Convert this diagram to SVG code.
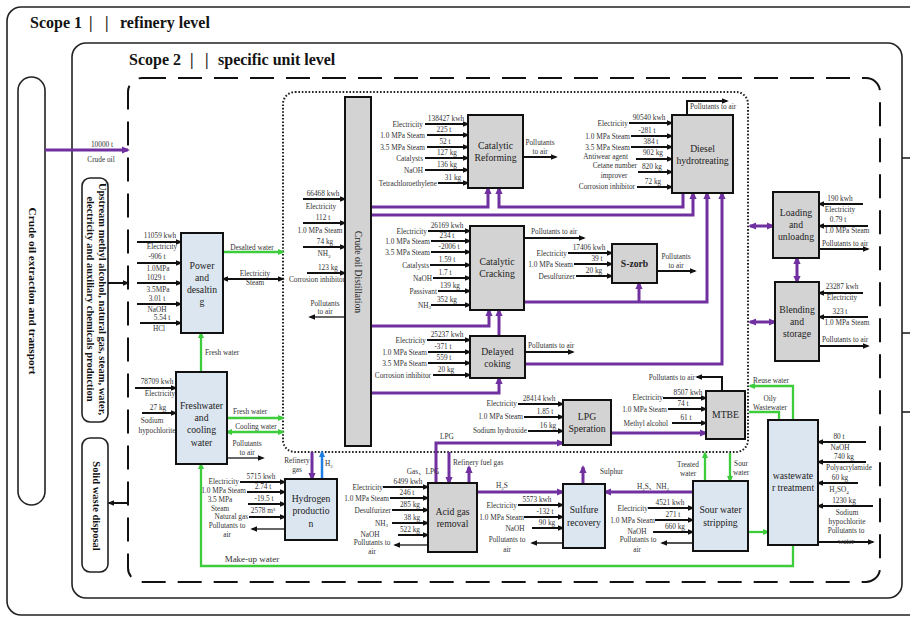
<svg xmlns="http://www.w3.org/2000/svg" width="910" height="617" viewBox="0 0 910 617">
<defs>
<style>
text{font-family:"Liberation Serif","Times New Roman","Noto Sans CJK SC",serif;fill:#333}
.s{font-size:7.3px}
.m{text-anchor:middle}
.e{text-anchor:end}
.sb{font-size:5px}
.bx{font-size:9.7px;fill:#222;text-anchor:middle}
.ti{font-size:16px;font-weight:bold;fill:#111;opacity:0.99}
.vt{font-weight:bold;fill:#111;text-anchor:middle}
.g{fill:#d3d3d3;stroke:#111;stroke-width:2}
.bl{fill:#dce6f0;stroke:#111;stroke-width:2}
.fr{fill:none;stroke:#222;stroke-width:1.6}
.k{stroke:#111;stroke-width:2;fill:none;marker-end:url(#aK)}
.kd{stroke:#111;stroke-width:2;fill:none;marker-end:url(#aK);marker-start:url(#aK)}
.po{stroke:#333;stroke-width:1.7;fill:none;marker-end:url(#aK)}
.p{stroke:#7030a0;stroke-width:3;fill:none;marker-end:url(#aP)}
.pd{stroke:#7030a0;stroke-width:3;fill:none;marker-end:url(#aP);marker-start:url(#aP)}
.gr{stroke:#3ccc3c;stroke-width:2.3;fill:none;marker-end:url(#aG)}
.grd{stroke:#3ccc3c;stroke-width:2.3;fill:none;marker-end:url(#aG);marker-start:url(#aG)}
.grl{stroke:#3ccc3c;stroke-width:2.3;fill:none}
.bu{stroke:#1e7fe0;stroke-width:2.5;fill:none;marker-end:url(#aB)}
</style>
<marker id="aK" viewBox="0 0 10 8" refX="7.5" refY="4" markerWidth="7" markerHeight="5.6" markerUnits="userSpaceOnUse" orient="auto-start-reverse"><path d="M0,0L10,4L0,8z" fill="#111"/></marker>
<marker id="aP" viewBox="0 0 10 9" refX="7.5" refY="4.5" markerWidth="8" markerHeight="7.5" markerUnits="userSpaceOnUse" orient="auto-start-reverse"><path d="M0,0L10,4.5L0,9z" fill="#7030a0"/></marker>
<marker id="aG" viewBox="0 0 10 9" refX="7.5" refY="4.5" markerWidth="7" markerHeight="6.5" markerUnits="userSpaceOnUse" orient="auto-start-reverse"><path d="M0,0L10,4.5L0,9z" fill="#3ccc3c"/></marker>
<marker id="aB" viewBox="0 0 10 9" refX="7.5" refY="4.5" markerWidth="7" markerHeight="6.5" markerUnits="userSpaceOnUse" orient="auto-start-reverse"><path d="M0,0L10,4.5L0,9z" fill="#1e7fe0"/></marker>
</defs>
<rect width="910" height="617" fill="#fff"/>

<g id="scopes">
<rect class="fr" x="7" y="7" width="940" height="608" rx="14"/>
<text class="ti" x="30" y="28">Scope 1<tspan x="89">|</tspan><tspan x="105">|</tspan><tspan x="120">refinery level</tspan></text>
<rect class="fr" x="72" y="43" width="830" height="555" rx="14"/>
<text class="ti" x="129" y="65">Scope 2<tspan x="190">|</tspan><tspan x="205">|</tspan><tspan x="218">specific unit level</tspan></text>
<rect x="128" y="78" width="752" height="504" rx="14" fill="none" stroke="#111" stroke-width="2" stroke-dasharray="24 12"/>
<rect x="283" y="92" width="465" height="360" rx="12" fill="none" stroke="#222" stroke-width="2" stroke-dasharray="1.6 1.8"/>
<line x1="902" y1="158" x2="910" y2="158" stroke="#222" stroke-width="1.6"/>
<line x1="902" y1="333" x2="910" y2="333" stroke="#222" stroke-width="1.6"/>
<line x1="902" y1="412" x2="910" y2="412" stroke="#222" stroke-width="1.6"/>
</g>

<g id="crude-oil-extraction">
<rect class="fr" x="18" y="77" width="27" height="428" rx="13.5"/>
<text class="vt" font-size="11.3" transform="translate(33,291) rotate(90)" y="3.7">Crude oil extraction and transport</text>
</g>
<g id="upstream-production">
<rect class="fr" x="82" y="178" width="26" height="244" rx="8"/>
<text class="vt" font-size="10.5" transform="translate(95,299) rotate(90)"><tspan x="0" y="-3.7">Upstream methyl alcohol, natural gas, steam, water,</tspan><tspan x="0" y="8.3">electricity and auxiliary chemicals production</tspan></text>
</g>
<g id="solid-waste-disposal">
<rect class="fr" x="82" y="438" width="26" height="134" rx="8"/>
<text class="vt" font-size="10.5" transform="translate(96,506) rotate(90)" y="3.5">Solid waste disposal</text>
</g>

<g id="connectors">
<line class="p" x1="45" y1="150" x2="128" y2="150"/>
<line class="k" x1="108" y1="283" x2="128" y2="283"/>
<line class="k" x1="128" y1="503" x2="109" y2="503"/>
<line class="k" x1="137" y1="242" x2="181" y2="242"/>
<line class="k" x1="137" y1="263" x2="181" y2="263"/>
<line class="k" x1="137" y1="283" x2="181" y2="283"/>
<line class="k" x1="137" y1="304" x2="181" y2="304"/>
<line class="k" x1="140" y1="323" x2="181" y2="323"/>
<line class="gr" x1="223" y1="252" x2="283" y2="252"/>
<line class="kd" x1="223" y1="279" x2="283" y2="279"/>
<line class="gr" x1="201" y1="372" x2="201" y2="333"/>
<line class="k" x1="135" y1="388" x2="176" y2="388"/>
<line class="k" x1="142" y1="413" x2="176" y2="413"/>
<line class="gr" x1="227" y1="418" x2="283" y2="418"/>
<line class="grd" x1="227" y1="432" x2="283" y2="432"/>
<line class="po" x1="227" y1="458" x2="263" y2="458"/>
<path class="gr" d="M793,545 V566 H201 V464"/>
<line class="k" x1="240" y1="482" x2="285" y2="482"/>
<line class="k" x1="247" y1="492" x2="285" y2="492"/>
<line class="k" x1="248" y1="504" x2="285" y2="504" stroke-width="2.8"/>
<line class="k" x1="249" y1="517" x2="285" y2="517"/>
<line class="po" x1="285" y1="529" x2="252" y2="529"/>
<path class="p" d="M312,452 V479" stroke-width="2.5"/>
<path class="bu" d="M322,479 V452"/>
<line class="k" x1="303" y1="199" x2="345" y2="199"/>
<line class="k" x1="303" y1="223" x2="345" y2="223"/>
<line class="k" x1="303" y1="247" x2="345" y2="247"/>
<line class="k" x1="307" y1="273" x2="345" y2="273"/>
<line class="po" x1="345" y1="317" x2="310" y2="317"/>
<path class="p" d="M371,207 H488 V188"/>
<path class="p" d="M683,193 V207 H499 V188"/>
<path class="p" d="M371,215 H693 V193"/>
<path class="p" d="M371,326 H489 V310"/>
<path class="p" d="M499,336 V310"/>
<path class="p" d="M524,302 H707 V193"/>
<path class="p" d="M639,302 V283"/>
<path class="p" d="M525,364 H722 V193"/>
<path class="p" d="M371,393 H499 V378"/>
<line class="k" x1="425" y1="124" x2="468" y2="124"/>
<line class="k" x1="427" y1="135" x2="468" y2="135"/>
<line class="k" x1="427" y1="147" x2="468" y2="147"/>
<line class="k" x1="425" y1="158" x2="468" y2="158"/>
<line class="k" x1="425" y1="170" x2="468" y2="170"/>
<line class="k" x1="438" y1="183" x2="468" y2="183"/>
<line class="k" x1="523" y1="157" x2="556" y2="157"/>
<line class="k" x1="629" y1="123" x2="672" y2="123"/>
<line class="k" x1="631" y1="136" x2="672" y2="136"/>
<line class="k" x1="631" y1="147" x2="672" y2="147"/>
<line class="k" x1="636" y1="159" x2="672" y2="159"/>
<line class="k" x1="638" y1="172" x2="672" y2="172"/>
<line class="k" x1="637" y1="187" x2="672" y2="187"/>
<path class="k" d="M687,115 V101 H727"/>
<line class="k" x1="428" y1="231" x2="470" y2="231"/>
<line class="k" x1="431" y1="241" x2="470" y2="241"/>
<line class="k" x1="431" y1="252" x2="470" y2="252" stroke-width="2.8"/>
<line class="k" x1="430" y1="265" x2="470" y2="265"/>
<line class="k" x1="433" y1="278" x2="470" y2="278"/>
<line class="k" x1="438" y1="291" x2="470" y2="291"/>
<line class="k" x1="431" y1="305" x2="470" y2="305"/>
<line class="k" x1="524" y1="238" x2="584" y2="238"/>
<line class="k" x1="568" y1="253" x2="612" y2="253"/>
<line class="k" x1="574" y1="264" x2="612" y2="264"/>
<line class="k" x1="576" y1="276" x2="612" y2="276"/>
<line class="k" x1="657" y1="271" x2="695" y2="271"/>
<line class="k" x1="427" y1="340" x2="470" y2="340"/>
<line class="k" x1="428" y1="352" x2="470" y2="352"/>
<line class="k" x1="428" y1="363" x2="470" y2="363" stroke-width="2.8"/>
<line class="k" x1="433" y1="375" x2="470" y2="375"/>
<line class="k" x1="525" y1="352" x2="573" y2="352"/>
<line class="k" x1="518" y1="404" x2="563" y2="404"/>
<line class="k" x1="524" y1="417" x2="563" y2="417"/>
<line class="k" x1="528" y1="431" x2="563" y2="431"/>
<path class="p" d="M436,483 V443 H563"/>
<line class="p" x1="611" y1="433" x2="706" y2="433"/>
<line class="k" x1="663" y1="398" x2="706" y2="398"/>
<line class="k" x1="668" y1="409" x2="706" y2="409"/>
<line class="k" x1="672" y1="423" x2="706" y2="423"/>
<path class="k" d="M722,391 V377 H697"/>
<line class="pd" x1="750" y1="226" x2="773" y2="226"/>
<line class="pd" x1="797" y1="258" x2="797" y2="282"/>
<line class="pd" x1="750" y1="322" x2="775" y2="322"/>
<line class="k" x1="863" y1="204" x2="819" y2="204"/>
<line class="k" x1="868" y1="226" x2="819" y2="226"/>
<line class="k" x1="819" y1="249" x2="868" y2="249"/>
<line class="k" x1="863" y1="293" x2="819" y2="293"/>
<line class="k" x1="868" y1="317" x2="819" y2="317"/>
<line class="k" x1="819" y1="346" x2="868" y2="346"/>
<path class="gr" d="M793,420 V386 H750"/>
<path class="grl" d="M749,412 H779 V420"/>
<line class="gr" x1="748" y1="532" x2="768" y2="532"/>
<line class="k" x1="866" y1="442" x2="818" y2="442"/>
<line class="k" x1="866" y1="462" x2="818" y2="462"/>
<line class="k" x1="858" y1="483" x2="818" y2="483"/>
<line class="k" x1="873" y1="506" x2="818" y2="506"/>
<line class="k" x1="818" y1="542" x2="873" y2="542"/>
<line class="gr" x1="705" y1="481" x2="705" y2="453"/>
<line class="gr" x1="730" y1="453" x2="730" y2="481"/>
<line class="k" x1="648" y1="508" x2="693" y2="508"/>
<line class="k" x1="655" y1="520" x2="693" y2="520"/>
<line class="k" x1="653" y1="532" x2="693" y2="532"/>
<line class="po" x1="693" y1="543" x2="662" y2="543"/>
<line class="p" x1="693" y1="492" x2="605" y2="492"/>
<line class="p" x1="583" y1="484" x2="583" y2="467"/>
<line class="k" x1="518" y1="505" x2="563" y2="505"/>
<line class="k" x1="524" y1="517" x2="563" y2="517"/>
<line class="k" x1="532" y1="528" x2="563" y2="528"/>
<line class="po" x1="563" y1="543" x2="532" y2="543"/>
<line class="p" x1="477" y1="492" x2="563" y2="492"/>
<path class="p" d="M449,452 V483" stroke-width="2.5"/>
<path class="p" d="M469,483 V467" stroke-width="2.5"/>
<line class="k" x1="383" y1="487" x2="428" y2="487"/>
<line class="k" x1="390" y1="498" x2="428" y2="498"/>
<line class="k" x1="392" y1="510" x2="428" y2="510"/>
<line class="k" x1="392" y1="523" x2="428" y2="523"/>
<line class="k" x1="398" y1="535" x2="428" y2="535"/>
<line class="po" x1="428" y1="545" x2="395" y2="545"/>
</g>

<g id="crude-oil-labels" class="s">
<text class="m" x="102" y="147">10000 t</text>
<text class="m" x="101" y="162">Crude oil</text>
</g>

<g id="power-and-desalting">
<rect class="bl" x="181" y="233" width="42" height="100"/>
<text class="bx" x="202" y="269">Power</text>
<text class="bx" x="202" y="281">and</text>
<text class="bx" x="202" y="293">desaltin</text>
<text class="bx" x="202" y="305">g</text>
<g class="s">
<text class="m" x="160" y="238">11059 kwh</text><text class="m" x="162" y="249">Electricity</text>
<text class="m" x="157" y="259">-906 t</text><text class="m" x="158" y="271">1.0MPa</text>
<text class="m" x="156" y="280">1029 t</text><text class="m" x="158" y="292">3.5MPa</text>
<text class="m" x="157" y="301">3.01 t</text><text class="m" x="157" y="312">NaOH</text>
<text class="m" x="162" y="320">5.54 t</text><text class="m" x="159" y="331">HCl</text>
<text class="m" x="252" y="250">Desalted water</text>
<text class="m" x="255" y="276">Electricity</text>
<text class="m" x="255" y="285">Steam</text>
<text x="205" y="355">Fresh water</text>
</g>
</g>

<g id="freshwater-cooling-water">
<rect class="bl" x="176" y="372" width="51" height="92"/>
<text class="bx" x="201.5" y="409">Freshwater</text>
<text class="bx" x="201.5" y="421">and</text>
<text class="bx" x="201.5" y="433">cooling</text>
<text class="bx" x="201.5" y="446">water</text>
<g class="s">
<text class="m" x="157" y="384">78709 kwh</text><text class="m" x="160" y="396">Electricity</text>
<text class="m" x="158" y="410">27 kg</text><text class="m" x="152" y="423">Sodium</text><text class="m" x="157" y="433">hypochlorite</text>
<text class="m" x="250" y="414">Fresh water</text>
<text class="m" x="256" y="429">Cooling water</text>
<text class="m" x="247" y="446">Pollutants</text><text class="m" x="247" y="455">to air</text>
</g>
<text class="m" x="252" y="562" font-size="9">Make-up water</text>
</g>

<g id="hydrogen-production">
<rect class="bl" x="285" y="479" width="52" height="61"/>
<text class="bx" x="311" y="502">Hydrogen</text>
<text class="bx" x="311" y="514">productio</text>
<text class="bx" x="311" y="527">n</text>
<g class="s">
<text class="e" x="239" y="484">Electricity</text><text class="m" x="261" y="479">5715 kwh</text>
<text class="e" x="246" y="493">1.0 MPa Steam</text><text class="m" x="263" y="489">2.74 t</text>
<text class="m" x="220" y="502">3.5 MPa</text><text class="m" x="220" y="510.5">Steam</text><text class="m" x="264" y="501">-19.5 t</text>
<text class="e" x="248" y="519">Natural gas</text><text class="m" x="263" y="513">2578 m³</text>
<text class="m" x="227" y="528">Pollutants to</text><text class="m" x="227" y="537">air</text>
<text class="m" x="297" y="463">Refinery</text><text class="m" x="297" y="472">gas</text>
<text x="325" y="466">H<tspan class="sb" dy="1.5">2</tspan></text>
</g>
</g>

<g id="crude-oil-distillation">
<rect class="g" x="345" y="97" width="26" height="349"/>
<text class="bx" font-size="9.8" transform="translate(358,272) rotate(90)" y="3.4">Crude oil  Distillation</text>
<g class="s">
<text class="m" x="323" y="196">66468 kwh</text><text class="m" x="321" y="209">Electricity</text>
<text class="m" x="323" y="220">112 t</text><text class="m" x="320" y="233">1.0 MPa Steam</text>
<text class="m" x="325" y="244">74 kg</text><text class="m" x="324" y="256">NH<tspan class="sb" dy="1.5">3</tspan></text>
<text class="m" x="328" y="270">123 kg</text><text class="m" x="317" y="282">Corrosion inhibitor</text>
<text class="m" x="325" y="306">Pollutants</text><text class="m" x="325" y="314">to air</text>
</g>
</g>

<g id="catalytic-reforming">
<rect class="g" x="468" y="115" width="55" height="73"/>
<text class="bx" x="495.5" y="149">Catalytic</text>
<text class="bx" x="495.5" y="161">Reforming</text>
<g class="s">
<text class="e" x="423" y="126.5">Electricity</text><text class="m" x="446" y="121">138427 kwh</text>
<text class="e" x="425" y="137.5">1.0 MPa Steam</text><text class="m" x="444" y="132">225 t</text>
<text class="e" x="425" y="149.5">3.5 MPa Steam</text><text class="m" x="445" y="144">52 t</text>
<text class="e" x="423" y="160.5">Catalysts</text><text class="m" x="447" y="155">127 kg</text>
<text class="e" x="423" y="172.5">NaOH</text><text class="m" x="447" y="167">136 kg</text>
<text class="e" x="437" y="185.5">Tetrachloroethylene</text><text class="m" x="453" y="180">31 kg</text>
<text class="m" x="540" y="145">Pollutants</text><text class="m" x="540" y="154">to air</text>
</g>
</g>

<g id="diesel-hydrotreating">
<rect class="g" x="672" y="115" width="61" height="78"/>
<text class="bx" x="702.5" y="152">Diesel</text>
<text class="bx" x="702.5" y="164">hydrotreating</text>
<g class="s">
<text x="690" y="109">Pollutants to air</text>
<text class="e" x="628" y="125.5">Electricity</text><text class="m" x="649" y="120">90540 kwh</text>
<text class="e" x="630" y="138.5">1.0 MPa Steam</text><text class="m" x="647" y="133">-281 t</text>
<text class="e" x="630" y="149.5">3.5 MPa Steam</text><text class="m" x="651" y="144">384 t</text>
<text class="e" x="628" y="159">Antiwear agent</text><text class="m" x="653" y="155">902 kg</text>
<text class="e" x="637" y="168">Cetane number</text><text class="m" x="614" y="177.5">improver</text><text class="m" x="652" y="168.5">820 kg</text>
<text class="e" x="635" y="189">Corrosion inhibitor</text><text class="m" x="653" y="183.5">72 kg</text>
</g>
</g>

<g id="catalytic-cracking">
<rect class="g" x="470" y="226" width="54" height="84"/>
<text class="bx" x="497" y="265">Catalytic</text>
<text class="bx" x="497" y="277">Cracking</text>
<g class="s">
<text class="e" x="427" y="233.5">Electricity</text><text class="m" x="447" y="228">26169 kwh</text>
<text class="e" x="430" y="243.5">1.0 MPa Steam</text><text class="m" x="447" y="238">234 t</text>
<text class="e" x="430" y="254.5">3.5 MPa Steam</text><text class="m" x="449" y="249">-2006 t</text>
<text class="e" x="429" y="267.5">Catalysts</text><text class="m" x="447" y="262">1.59 t</text>
<text class="e" x="432" y="280.5">NaOH</text><text class="m" x="445" y="275">1.7 t</text>
<text class="e" x="437" y="293.5">Passivant</text><text class="m" x="450" y="288">139 kg</text>
<text class="e" x="431" y="307.5">NH<tspan class="sb" dy="1.5">3</tspan></text><text class="m" x="447" y="302">352 kg</text>
<text x="531" y="234">Pollutants to air</text>
</g>
</g>

<g id="s-zorb">
<rect class="g" x="612" y="244" width="45" height="39"/>
<text class="bx" x="634.5" y="266.5" font-weight="bold" font-size="9">S-zorb</text>
<g class="s">
<text class="e" x="567" y="255.5">Electricity</text><text class="m" x="589" y="250">17406 kwh</text>
<text class="e" x="573" y="266.5">1.0 MPa Steam</text><text class="m" x="597" y="261">39 t</text>
<text class="e" x="575" y="278.5">Desulfurizer</text><text class="m" x="594" y="273">20 kg</text>
<text class="m" x="676" y="259">Pollutants</text><text class="m" x="676" y="268">to air</text>
</g>
</g>

<g id="delayed-coking">
<rect class="g" x="470" y="336" width="55" height="42"/>
<text class="bx" x="497.5" y="355">Delayed</text>
<text class="bx" x="497.5" y="367">coking</text>
<g class="s">
<text class="e" x="426" y="342.5">Electricity</text><text class="m" x="447" y="337">25237 kwh</text>
<text class="e" x="427" y="354.5">1.0 MPa Steam</text><text class="m" x="443" y="349">-371 t</text>
<text class="e" x="427" y="365.5">3.5 MPa Steam</text><text class="m" x="444" y="360">559 t</text>
<text class="e" x="431" y="377.5">Corrosion inhibitor</text><text class="m" x="446" y="372">20 kg</text>
<text x="528" y="348">Pollutants to air</text>
</g>
</g>

<g id="lpg-speration">
<rect class="g" x="563" y="400" width="48" height="45"/>
<text class="bx" x="587" y="420">LPG</text>
<text class="bx" x="587" y="432">Speration</text>
<g class="s">
<text class="e" x="517" y="406">Electricity</text><text class="m" x="539" y="401">28414 kwh</text>
<text class="e" x="523" y="419">1.0 MPa Steam</text><text class="m" x="545" y="414">1.85 t</text>
<text class="e" x="527" y="433">Sodium hydroxide</text><text class="m" x="548" y="428">16 kg</text>
</g>
</g>

<g id="mtbe">
<rect class="g" x="706" y="391" width="39" height="48"/>
<text class="bx" x="725.5" y="418">MTBE</text>
<g class="s">
<text class="e" x="695" y="380">Pollutants to air</text>
<text class="e" x="663" y="400">Electricity</text><text class="m" x="688" y="395">8507 kwh</text>
<text class="e" x="667" y="411.5">1.0 MPa Steam</text><text class="m" x="683" y="406">74 t</text>
<text class="e" x="668" y="425.5">Methyl alcohol</text><text class="m" x="686" y="420">61 t</text>
</g>
</g>

<g id="loading-unloading">
<rect class="g" x="773" y="192" width="46" height="66"/>
<text class="bx" x="796" y="216">Loading</text>
<text class="bx" x="796" y="228">and</text>
<text class="bx" x="796" y="240">unloadng</text>
<g class="s">
<text class="m" x="840" y="201">190 kwh</text><text class="m" x="840" y="212">Electricity</text>
<text class="m" x="838" y="222">0.79 t</text><text class="m" x="847" y="233">1.0 MPa Steam</text>
<text class="m" x="845" y="246">Pollutants to air</text>
</g>
</g>

<g id="blending-storage">
<rect class="g" x="775" y="282" width="44" height="79"/>
<text class="bx" x="797" y="313">Blending</text>
<text class="bx" x="797" y="325">and</text>
<text class="bx" x="797" y="337">storage</text>
<g class="s">
<text class="m" x="842" y="289">23287 kwh</text><text class="m" x="842" y="300">Electricity</text>
<text class="m" x="840" y="314">323 t</text><text class="m" x="847" y="325">1.0 MPa Steam</text>
<text class="m" x="845" y="342">Pollutants to air</text>
</g>
</g>

<g id="acid-gas-removal">
<rect class="g" x="428" y="483" width="49" height="69"/>
<text class="bx" x="452.5" y="515">Acid gas</text>
<text class="bx" x="452.5" y="527">removal</text>
<g class="s">
<text class="e" x="383" y="489.5">Electricity</text><text class="m" x="408" y="484">6499 kwh</text>
<text class="e" x="389" y="500.5">1.0 MPa Steam</text><text class="m" x="407" y="495">246 t</text>
<text class="e" x="391" y="512.5">Desulfurizer</text><text class="m" x="410" y="507">285 kg</text>
<text class="e" x="388" y="525.5">NH<tspan class="sb" dy="1.5">3</tspan></text><text class="m" x="412" y="520">38 kg</text>
<text class="m" x="370" y="537">NaOH</text><text class="m" x="410" y="532">522 kg</text>
<text class="m" x="372" y="545">Pollutants to</text><text class="m" x="372" y="554">air</text>
<text class="m" x="423" y="474">Gas、LPG</text>
<text class="m" x="447" y="439">LPG</text>
<text x="453" y="465">Refinery fuel gas</text>
<text class="m" x="502" y="488">H<tspan class="sb" dy="1.5">2</tspan><tspan dy="-1.5">S</tspan></text>
</g>
</g>

<g id="sulfure-recovery">
<rect class="bl" x="563" y="484" width="42" height="64"/>
<text class="bx" x="584" y="513">Sulfure</text>
<text class="bx" x="584" y="526">recovery</text>
<g class="s">
<text class="e" x="517" y="507.5">Electricity</text><text class="m" x="537" y="502">5573 kwh</text>
<text class="e" x="524" y="519.5">1.0 MPa Steam</text><text class="m" x="545" y="514">-132 t</text>
<text class="m" x="515" y="531">NaOH</text><text class="m" x="547" y="525">90 kg</text>
<text class="m" x="507" y="542">Pollutants to</text><text class="m" x="507" y="552">air</text>
<text x="600" y="474">Sulphur</text>
<text class="m" x="653" y="489">H<tspan class="sb" dy="1.5">2</tspan><tspan dy="-1.5">S、NH</tspan><tspan class="sb" dy="1.5">3</tspan></text>
</g>
</g>

<g id="sour-water-stripping">
<rect class="bl" x="693" y="481" width="55" height="70"/>
<text class="bx" x="720.5" y="513">Sour water</text>
<text class="bx" x="720.5" y="526">stripping</text>
<g class="s">
<text class="e" x="648" y="510.5">Electricity</text><text class="m" x="670" y="505">4521 kwh</text>
<text class="e" x="655" y="522.5">1.0 MPa Steam</text><text class="m" x="673" y="517">271 t</text>
<text class="m" x="637" y="534">NaOH</text><text class="m" x="675" y="529">660 kg</text>
<text class="m" x="638" y="542">Pollutants to</text><text class="m" x="637" y="552">air</text>
<text class="m" x="688" y="467">Treated</text><text class="m" x="688" y="476">water</text>
<text class="m" x="741" y="466">Sour</text><text class="m" x="741" y="475">water</text>
</g>
</g>

<g id="wastewater-treatment">
<rect class="bl" x="768" y="420" width="50" height="125"/>
<text class="bx" x="793" y="479">wastewate</text>
<text class="bx" x="793" y="491">r treatment</text>
<g class="s">
<text class="m" x="771" y="383">Reuse water</text>
<text class="m" x="770" y="401">Oily</text><text class="m" x="770" y="410">Wastewater</text>
<text class="m" x="839" y="439">80 t</text><text class="m" x="840" y="450">NaOH</text>
<text class="m" x="844" y="459">740 kg</text><text class="m" x="849" y="470">Polyacrylamide</text>
<text class="m" x="840" y="480">60 kg</text><text class="m" x="839" y="492">H<tspan class="sb" dy="1.5">2</tspan><tspan dy="-1.5">SO</tspan><tspan class="sb" dy="1.5">4</tspan></text>
<text class="m" x="844" y="503">1230 kg</text><text class="m" x="847" y="515">Sodium</text><text class="m" x="847" y="524">hypochlorite</text>
<text class="m" x="846" y="533">Pollutants to</text><text class="m" x="846" y="544">water</text>
</g>
</g>
</svg>
